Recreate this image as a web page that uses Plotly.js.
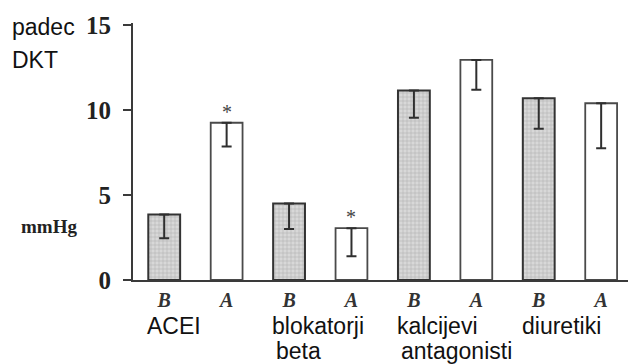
<!DOCTYPE html>
<html>
<head>
<meta charset="utf-8">
<script src="https://cdn.plot.ly/plotly-3.0.1.min.js"></script>
<style>
  html, body { margin: 0; padding: 0; background: #fff; }
  #chart { width: 631px; height: 364px; }
</style>
</head>
<body>
<div id="chart"></div>
<script>
// Drug groups, with the label split into display lines
const groups = [["ACEI"], ["blokatorji", "beta"], ["kalcijevi", "antagonisti"], ["diuretiki"]];
// Fall in diastolic pressure (mmHg), before (B) and after (A)
const before = [3.85, 4.5, 11.15, 10.7];
const after = [9.25, 3.05, 12.95, 10.4];
// Lower error extent for each bar
const beforeErr = [1.4, 1.5, 1.6, 1.8];
const afterErr = [1.4, 1.65, 1.75, 2.65];
// Significant change marker for the "after" bars
const significant = [true, true, false, false];
const tickText = ["B", "A"];
const yTicks = [0, 5, 10, 15];

const xB = before.map((_, i) => 2 * i);
const xA = after.map((_, i) => 2 * i + 1);

const errStyle = (minus) => ({
  type: "data", symmetric: false,
  array: minus.map(() => 0), arrayminus: minus,
  color: "#2f2f2f", thickness: 2, width: 5
});

const traces = [
  {
    type: "bar", x: xB, y: before, width: 0.51,
    marker: {
      color: "#d3d3d3",
      line: { color: "#333", width: 2 },
      pattern: { shape: "+", size: 4, solidity: 0.2, fgcolor: "#a6a6a6", bgcolor: "#d8d8d8" }
    },
    error_y: errStyle(beforeErr),
    hoverinfo: "skip"
  },
  {
    type: "bar", x: xA, y: after, width: 0.51,
    marker: { color: "#ffffff", line: { color: "#4a4a4a", width: 1.8 } },
    error_y: errStyle(afterErr),
    hoverinfo: "skip"
  }
];

const annotations = [];
const labelFont = { family: "Liberation Sans, Arial, sans-serif", size: 23, color: "#111" };
groups.forEach((lines, i) => {
  lines.forEach((txt, j) => {
    annotations.push({
      xref: "x", yref: "paper", x: 2 * i - 0.3, y: 0,
      xanchor: "left", yanchor: "top", xshift: j ? 4 : 0, yshift: -31 - 25 * j,
      text: txt, showarrow: false, font: labelFont
    });
  });
});
significant.forEach((s, i) => {
  if (!s) return;
  annotations.push({
    xref: "x", yref: "y", x: xA[i], y: after[i], yanchor: "bottom", yshift: -2,
    text: "*", showarrow: false,
    font: { family: "Liberation Serif, serif", size: 20, color: "#444" }
  });
});
const cornerFont = { family: "Liberation Sans, Arial, sans-serif", size: 23, color: "#111" };
annotations.push(
  { xref: "paper", yref: "paper", x: -0.2485, y: 0.985, xanchor: "left", yanchor: "middle",
    text: "padec", showarrow: false, font: cornerFont },
  { xref: "paper", yref: "paper", x: -0.2485, y: 0.855, xanchor: "left", yanchor: "middle",
    text: "DKT", showarrow: false, font: cornerFont },
  { xref: "paper", yref: "paper", x: -0.1697, y: 0.21, xanchor: "center", yanchor: "middle",
    text: "mmHg", showarrow: false,
    font: { family: "Liberation Serif, Times New Roman, serif", size: 19, weight: "bold", color: "#222" } }
);

const layout = {
  width: 631, height: 364,
  margin: { l: 133, r: 3, t: 23, b: 84 },
  paper_bgcolor: "#fff", plot_bgcolor: "#fff",
  showlegend: false,
  xaxis: {
    range: [-0.5, 7.43], showgrid: false, zeroline: false,
    showline: true, linecolor: "#3a3a3a", linewidth: 2,
    tickmode: "array", tickvals: xB.concat(xA),
    ticktext: xB.map(() => tickText[0]).concat(xA.map(() => tickText[1])),
    ticks: "", ticklabelstandoff: 1,
    tickfont: { family: "Liberation Serif, Times New Roman, serif", size: 20, weight: "bold", style: "italic", color: "#333" }
  },
  yaxis: {
    range: [0, 15.12], showgrid: false, zeroline: false,
    showline: true, linecolor: "#3a3a3a", linewidth: 2,
    tickmode: "array", tickvals: yTicks, ticktext: yTicks.map(String),
    ticks: "outside", ticklen: 8, tickwidth: 2, tickcolor: "#3a3a3a",
    ticklabelstandoff: 7,
    tickfont: { family: "Liberation Serif, Times New Roman, serif", size: 25, weight: "bold", color: "#222" }
  },
  annotations: annotations
};

Plotly.newPlot("chart", traces, layout, { staticPlot: true, displayModeBar: false });
</script>
</body>
</html>
